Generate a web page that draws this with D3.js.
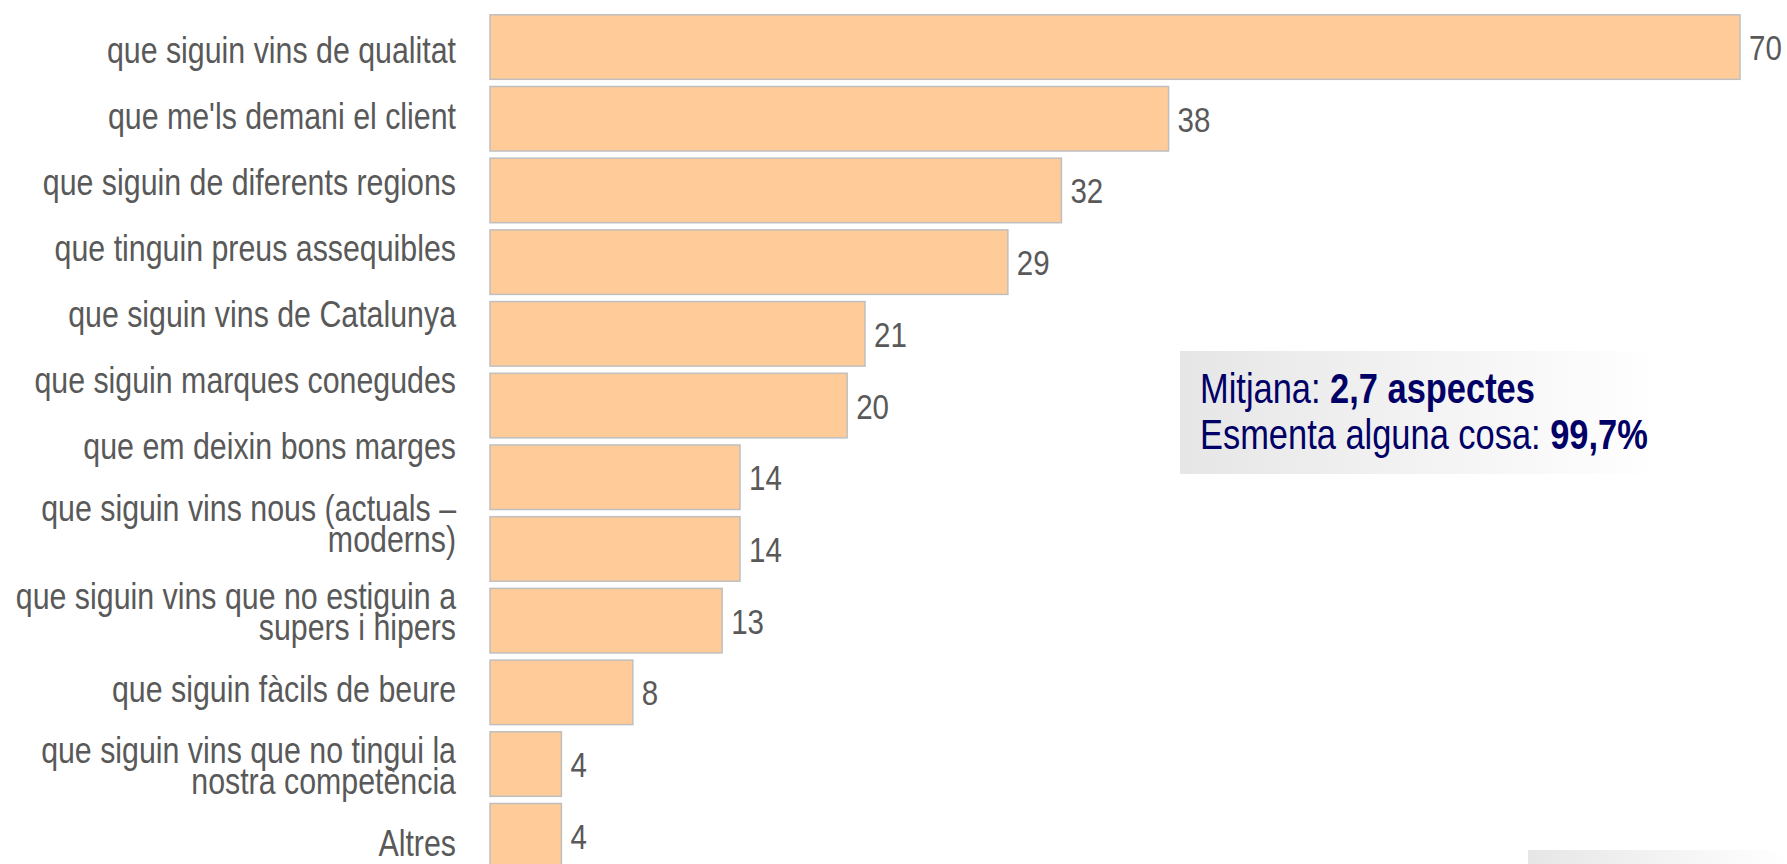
<!DOCTYPE html>
<html>
<head>
  <meta charset="UTF-8">
  <style>
    body { margin: 0; background: #fff; }
    svg { display: block; }
    .cat-label {
      font-family: "Liberation Sans", Arial, sans-serif;
      font-size: 37px;
      fill: #595959;
      text-anchor: end;
    }
    .val-label {
      font-family: "Liberation Sans", Arial, sans-serif;
      font-size: 36px;
      fill: #595959;
    }
    .note {
      font-family: "Liberation Sans", Arial, sans-serif;
      font-size: 42px;
      fill: #000066;
    }
  </style>
</head>
<body>
<script src="https://cdn.jsdelivr.net/npm/d3@7"></script>
<svg id="chart" width="1787" height="864"></svg>
<script>
  // chart data (line breaks as in the original labels)
  let categories = [
    "que siguin vins de qualitat",
    "que me'ls demani el client",
    "que siguin de diferents regions",
    "que tinguin preus assequibles",
    "que siguin vins de Catalunya",
    "que siguin marques conegudes",
    "que em deixin bons marges",
    "que siguin vins nous (actuals –\nmoderns)",
    "que siguin vins que no estiguin a\nsupers i hipers",
    "que siguin fàcils de beure",
    "que siguin vins que no tingui la\nnostra competència",
    "Altres"
  ];
  let values = [70, 38, 32, 29, 21, 20, 14, 14, 13, 8, 4, 4];

  let noteLabels = ["Mitjana: ", "Esmenta alguna cosa: "];
  let noteValues = ["2,7 aspectes", "99,7%"];

  // no narrow font installed: squeeze Liberation Sans like Arial Narrow
  let narrow = 0.82;

  let svg = d3.select("#chart");

  let defs = svg.append("defs");
  let grad = defs.append("linearGradient").attr("id", "boxFade");
  grad.append("stop").attr("offset", "0%").attr("stop-color", "#e6e6e6");
  grad.append("stop").attr("offset", "100%").attr("stop-color", "#ffffff");

  // scales
  let x = d3.scaleLinear()
    .domain([0, 70])
    .range([490, 1740]);

  let y = d3.scaleBand()
    .domain(categories)
    .range([11.2, 871.6])
    .paddingInner(0.1)
    .paddingOuter(0.05);

  // bars
  svg.selectAll("rect.bar")
    .data(categories)
    .enter()
    .append("rect")
      .attr("class", "bar")
      .attr("x", x(0))
      .attr("y", d => y(d))
      .attr("width", (d, i) => x(values[i]) - x(0))
      .attr("height", y.bandwidth())
      .attr("fill", "#ffcc99")
      .attr("stroke", "#bfbfbf")
      .attr("stroke-width", 1.5);

  // value labels
  svg.selectAll("text.val-label")
    .data(categories)
    .enter()
    .append("text")
      .attr("class", "val-label")
      .attr("transform", (d, i) => "translate(" + (x(values[i]) + 9) + "," + (y(d) + y.bandwidth() / 2 + 13) + ") scale(" + narrow + ",1)")
      .text((d, i) => values[i]);

  // category labels: the original text block does not sit exactly on the bars,
  // it flows down with its own spacing
  let paraStep = 66.1, extraStep = 22, lineStep = 31;
  let center = 51.3;
  categories.forEach(function(c) {
    let lines = c.split("\n");
    let n = lines.length;
    let mid = center + (n - 1) * extraStep / 2;
    let first = mid - (n - 1) * lineStep / 2 + 11.4;
    let t = svg.append("text")
      .attr("class", "cat-label")
      .attr("transform", "translate(456," + first + ") scale(" + narrow + ",1)");
    lines.forEach(function(l, k) {
      t.append("tspan")
        .attr("x", 0)
        .attr("y", k * lineStep)
        .text(l);
    });
    center += paraStep + (n - 1) * extraStep;
  });

  // summary box
  svg.append("rect")
    .attr("x", 1180).attr("y", 351)
    .attr("width", 480).attr("height", 123)
    .attr("fill", "url(#boxFade)");

  noteLabels.forEach(function(lab, i) {
    let t = svg.append("text")
      .attr("class", "note")
      .attr("transform", "translate(1200," + (403 + i * 46) + ") scale(" + narrow + ",1)");
    t.append("tspan").text(lab);
    t.append("tspan").attr("font-weight", "bold").text(noteValues[i]);
  });

  // second box, cut off at the bottom edge
  svg.append("rect")
    .attr("x", 1528).attr("y", 850)
    .attr("width", 259).attr("height", 20)
    .attr("fill", "url(#boxFade)");
</script>
</body>
</html>
